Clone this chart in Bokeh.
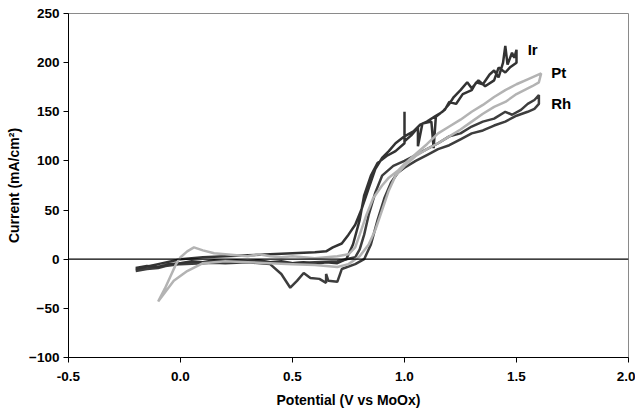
from bokeh.plotting import figure
from bokeh.models import Span, Range1d, FixedTicker, PrintfTickFormatter, ColumnDataSource
from bokeh.embed import file_html
from bokeh.resources import INLINE
from bokeh.core.properties import value

# ---- data ----
ir_v = [-0.2, -0.15, -0.1, -0.05, 0.0, 0.05, 0.1, 0.15, 0.2, 0.25, 0.3, 0.35, 0.4, 0.45, 0.5, 0.55, 0.6, 0.65, 0.7,
        0.74, 0.77, 0.8, 0.82, 0.85, 0.88, 0.92, 0.96, 1.0, 1.0, 1.0, 1.03, 1.06, 1.06, 1.08, 1.12, 1.13, 1.14, 1.18,
        1.2, 1.23, 1.26, 1.3, 1.32, 1.35, 1.38, 1.4, 1.42, 1.44, 1.45, 1.46, 1.48, 1.49, 1.5,
        1.5, 1.47, 1.45, 1.42, 1.4, 1.36, 1.33, 1.3, 1.28, 1.25, 1.22, 1.2, 1.17, 1.14, 1.1, 1.07, 1.04, 1.0, 0.96,
        0.93, 0.9, 0.87, 0.84, 0.81, 0.78, 0.75, 0.72, 0.68, 0.65, 0.6, 0.5, 0.4, 0.3, 0.2, 0.1, 0.0, -0.1, -0.2]
ir_i = [-9, -7, -8, -5, -4, -2, -3, -1, -2, -1, -2, -1, -3, -2, -4, -3, -5, -3, -4,
        0, 15, 40, 65, 85, 98, 105, 110, 118, 150, 120, 126, 134, 115, 138, 140, 113, 145, 152,
        160, 158, 168, 172, 180, 178, 188, 192, 185, 200, 217, 198, 210, 205, 213,
        200, 195, 190, 195, 182, 176, 182, 174, 180, 172, 165, 158, 150, 146, 140, 137, 130, 125, 118,
        110, 103, 92, 72, 52, 35, 25, 16, 12, 8, 7, 6, 5, 4, 3, 2, 0, -5, -10]

rh_v = [-0.2, -0.15, -0.1, -0.05, 0.0, 0.1, 0.2, 0.3, 0.4, 0.45, 0.49, 0.52, 0.55, 0.58, 0.62, 0.65, 0.65, 0.66,
        0.7, 0.72, 0.78, 0.82, 0.85, 0.88, 0.91, 0.94, 0.97, 1.0, 1.05, 1.1, 1.15, 1.2, 1.25, 1.3, 1.35, 1.4, 1.45,
        1.5, 1.55, 1.58, 1.6, 1.6,
        1.58, 1.55, 1.52, 1.48, 1.45, 1.4, 1.35, 1.3, 1.25, 1.2, 1.15, 1.1, 1.05, 1.0, 0.95, 0.9, 0.87, 0.84, 0.82,
        0.8, 0.78, 0.7, 0.6, 0.5, 0.4, 0.3, 0.2, 0.1, 0.0, -0.1, -0.2]
rh_i = [-12, -10, -9, -6, -4, -3, -4, -3, -5, -15, -29, -22, -14, -19, -20, -24, -15, -22,
        -23, -10, -5, 0, 15, 40, 62, 78, 88, 93, 100, 106, 112, 116, 122, 128, 131, 136, 140,
        146, 150, 153, 158, 167,
        162, 158, 152, 147, 150, 143, 140, 135, 128, 125, 118, 112, 106, 100, 95, 85, 68, 45, 25,
        10, 2, -2, -3, -4, -3, -2, -3, -4, -5, -8, -11]

pt_v = [-0.1, -0.07, -0.04, -0.02, 0.0, 0.03, 0.06, 0.1, 0.15, 0.2, 0.25, 0.3, 0.35, 0.4, 0.45, 0.5, 0.55, 0.6,
        0.65, 0.7, 0.75, 0.78, 0.8, 0.83, 0.86, 0.9, 0.93, 0.97, 1.0, 1.05, 1.1, 1.15, 1.2, 1.25, 1.3, 1.35, 1.4,
        1.45, 1.5, 1.55, 1.58, 1.61,
        1.6, 1.57, 1.5, 1.45, 1.4, 1.35, 1.3, 1.25, 1.2, 1.15, 1.1, 1.05, 1.0, 0.96, 0.93, 0.9, 0.87, 0.84, 0.8,
        0.75, 0.7, 0.6, 0.5, 0.4, 0.3, 0.2, 0.1, 0.03, -0.03, -0.1]
pt_i = [-43, -30, -15, -5, 2, 8, 12, 9, 6, 5, 4, 3, 5, 3, 2, 3, 2, 1,
        2, 3, 5, 12, 25, 45, 62, 75, 83, 90, 97, 107, 117, 128, 135, 142, 150, 157, 165,
        172, 178, 183, 186, 189,
        180, 176, 168, 160, 155, 148, 140, 132, 125, 118, 112, 105, 95, 85, 70, 50, 30, 15, 3,
        -5, -8, -6, -5, -4, -3, -2, -4, -12, -22, -43]

label_text = ["Ir", "Pt", "Rh"]
label_v = [1.55, 1.655, 1.655]
label_i = [213, 190, 158]

x_ticks = [-0.5, 0.0, 0.5, 1.0, 1.5, 2.0]
y_ticks = [-100, -50, 0, 50, 100, 150, 200, 250]

FONT = "Liberation Sans"

p = figure(width=635, height=410, output_backend="svg", toolbar_location=None,
           x_range=Range1d(-0.5, 2.0), y_range=Range1d(-100, 250),
           min_border_left=68, min_border_right=7, min_border_top=13, min_border_bottom=53)

p.grid.visible = False
p.outline_line_color = "#8a8a8a"
p.outline_line_width = 1

p.add_layout(Span(location=0, dimension="width", line_color="black", line_width=1.2))

p.line(rh_v, rh_i, line_color="#3d3d3d", line_width=2.5)
p.line(ir_v, ir_i, line_color="#333333", line_width=2.5)
p.line(pt_v, pt_i, line_color="#b3b3b3", line_width=2.5)

src = ColumnDataSource(dict(x=label_v, y=label_i, t=label_text))
p.text(x="x", y="y", text="t", source=src, text_font=value(FONT), text_font_style="bold",
       text_font_size="15px", text_align="left", text_baseline="middle", text_color="black")

for ax in (p.xaxis, p.yaxis):
    ax.axis_line_color = "black"
    ax.major_tick_line_color = "black"
    ax.major_tick_out = 5
    ax.major_tick_in = 0
    ax.minor_tick_line_color = None
    ax.major_label_text_font = FONT
    ax.major_label_text_font_style = "bold"
    ax.major_label_text_font_size = "13.5px"
    ax.major_label_text_color = "black"
    ax.axis_label_text_font = FONT
    ax.axis_label_text_font_style = "bold"
    ax.axis_label_text_font_size = "14px"
    ax.axis_label_text_color = "black"

p.xaxis.ticker = FixedTicker(ticks=x_ticks)
p.yaxis.ticker = FixedTicker(ticks=y_ticks)
p.xaxis.formatter = PrintfTickFormatter(format="%.1f")
p.xaxis.axis_label = "Potential (V vs MoOx)"
p.yaxis.axis_label = "Current (mA/cm\u00b2)"
p.xaxis.major_label_standoff = 9
p.xaxis.axis_label_standoff = 8
p.yaxis.major_label_standoff = 4
p.yaxis.axis_label_standoff = 4

open("out.html", "w").write(file_html(p, INLINE))
